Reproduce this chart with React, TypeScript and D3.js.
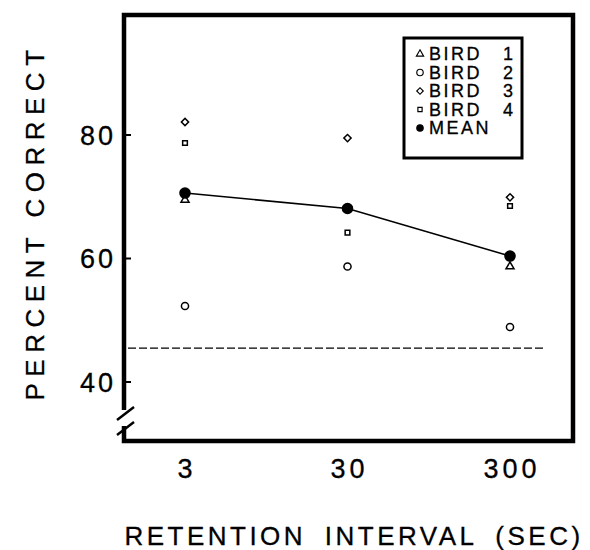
import * as d3 from "d3";
import {useEffect, useRef} from "react";

// retention intervals (sec)
const intervals = [3, 30, 300];
const yTicks = [40, 60, 80];

// percent correct per bird
const bird1 = [69.5, null, 58.7];
const bird2 = [52.3, 58.7, 48.9];
const bird3 = [82.1, 79.5, 69.9];
const bird4 = [78.7, 64.2, 68.5];
const mean = [70.6, 68.1, 60.4];
const chance = 45.5;

const legendLabels = ["BIRD", "BIRD", "BIRD", "BIRD", "MEAN"];
const legendNums = ["1", "2", "3", "4", ""];

const FONT = "'Liberation Sans', Arial, Helvetica, sans-serif";

const App = () => {
    const ref = useRef<SVGSVGElement>(null);

    useEffect(() => {
        const width = 590, height = 550;
        const left = 124, right = 573, top = 15, bottom = 441;

        const svg = d3.select(ref.current);
        svg.selectAll("*").remove();

        const x = d3.scaleLog().domain([3, 300]).range([185, 510]);
        const y = d3.scaleLinear().domain([40, 80]).range([382, 135]);

        const g = svg.append("g");

        // frame, with a break in the left axis near the bottom
        g.append("path")
            .attr("d", `M${left},410 L${left},${top} L${right},${top} L${right},${bottom} L${left},${bottom} L${left},426`)
            .attr("fill", "none")
            .attr("stroke", "#000")
            .attr("stroke-width", 4.5)
            .attr("stroke-linejoin", "miter");

        // break slashes
        [414, 429].forEach(yy => {
            g.append("line")
                .attr("x1", left - 7).attr("y1", yy + 6)
                .attr("x2", left + 10).attr("y2", yy - 7)
                .attr("stroke", "#000").attr("stroke-width", 2.5);
        });

        const txt = (sel: any, size: number) => sel
            .attr("font-family", FONT)
            .attr("font-size", size)
            .attr("stroke", "#000")
            .attr("stroke-width", 0.3);

        // y ticks + labels
        g.selectAll(".ytick")
            .data(yTicks)
            .join("line")
            .attr("x1", left).attr("x2", left + 7)
            .attr("y1", d => y(d)).attr("y2", d => y(d))
            .attr("stroke", "#000").attr("stroke-width", 2);

        txt(g.selectAll(".ylab")
            .data(yTicks)
            .join("text")
            .attr("x", 116)
            .attr("y", d => y(d))
            .attr("dy", "0.36em")
            .attr("text-anchor", "end")
            .attr("letter-spacing", 3), 27)
            .text(d => d);

        // x labels
        txt(g.selectAll(".xlab")
            .data(intervals)
            .join("text")
            .attr("x", d => x(d) + 2)
            .attr("y", 478)
            .attr("text-anchor", "middle")
            .attr("letter-spacing", 4), 27)
            .text(d => d);

        // axis titles
        txt(g.append("text")
            .attr("transform", "translate(44,222) rotate(-90)")
            .attr("text-anchor", "middle")
            .attr("letter-spacing", 6.5), 26)
            .text("PERCENT CORRECT");

        txt(g.append("text")
            .attr("x", 354)
            .attr("y", 545)
            .attr("text-anchor", "middle")
            .attr("letter-spacing", 3.5)
            .attr("word-spacing", 8), 26)
            .text("RETENTION INTERVAL (SEC)");

        // chance line
        g.append("line")
            .attr("x1", left + 4).attr("x2", 543)
            .attr("y1", y(chance)).attr("y2", y(chance))
            .attr("stroke", "#000").attr("stroke-width", 1.3)
            .attr("stroke-dasharray", "8,3");

        // mean line
        const line = d3.line<number>()
            .x((d, i) => x(intervals[i]))
            .y(d => y(d));
        g.append("path")
            .attr("d", line(mean))
            .attr("fill", "none")
            .attr("stroke", "#000")
            .attr("stroke-width", 1.6);

        const sym = {
            tri: {p: d3.symbol().type(d3.symbolTriangle).size(28)(), r: 0},
            circ: {p: d3.symbol().type(d3.symbolCircle).size(40)(), r: 0},
            dia: {p: d3.symbol().type(d3.symbolSquare).size(26)(), r: 45},
            sq: {p: d3.symbol().type(d3.symbolSquare).size(22)(), r: 0},
            dot: {p: d3.symbol().type(d3.symbolCircle).size(80)(), r: 0},
        };

        const series = [
            {vals: bird1, s: sym.tri, fill: "none"},
            {vals: bird2, s: sym.circ, fill: "none"},
            {vals: bird3, s: sym.dia, fill: "none"},
            {vals: bird4, s: sym.sq, fill: "none"},
            {vals: mean, s: sym.dot, fill: "#000"},
        ];

        series.forEach(ser => {
            ser.vals.forEach((v, i) => {
                if (v == null) return;
                g.append("path")
                    .attr("d", ser.s.p)
                    .attr("transform", `translate(${x(intervals[i])},${y(v)}) rotate(${ser.s.r})`)
                    .attr("fill", ser.fill)
                    .attr("stroke", "#000")
                    .attr("stroke-width", 1.5);
            });
        });

        // legend
        const lg = g.append("g");
        lg.append("rect")
            .attr("x", 404).attr("y", 38)
            .attr("width", 118).attr("height", 120)
            .attr("fill", "#fff")
            .attr("stroke", "#000").attr("stroke-width", 3);

        const legendSyms = [
            sym.tri,
            sym.circ,
            sym.dia,
            sym.sq,
            {p: d3.symbol().type(d3.symbolCircle).size(40)(), r: 0},
        ];
        legendLabels.forEach((lab, i) => {
            const cy = 54 + i * 18.5;
            lg.append("path")
                .attr("d", legendSyms[i].p)
                .attr("transform", `translate(420,${cy}) rotate(${legendSyms[i].r}) scale(0.9)`)
                .attr("fill", i === 4 ? "#000" : "none")
                .attr("stroke", "#000").attr("stroke-width", 1.3);
            txt(lg.append("text")
                .attr("x", 429).attr("y", cy)
                .attr("dy", "0.36em")
                .attr("letter-spacing", 2.5), 18)
                .text(lab);
            if (legendNums[i]) {
                txt(lg.append("text")
                    .attr("x", 513).attr("y", cy)
                    .attr("dy", "0.36em")
                    .attr("text-anchor", "end"), 18)
                    .text(legendNums[i]);
            }
        });

        svg.attr("width", width).attr("height", height);
    }, []);

    return (
        <svg ref={ref} width={590} height={550}
             style={{position: "absolute", left: 0, top: 0, background: "#fff"}}/>
    );
};

export default App;
